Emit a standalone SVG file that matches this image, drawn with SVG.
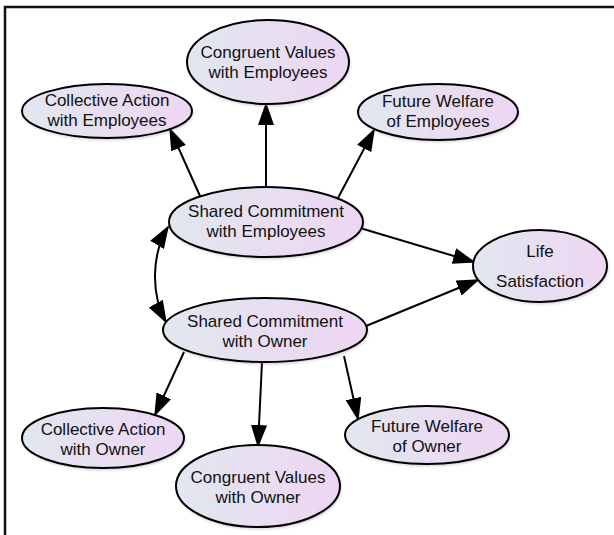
<svg xmlns="http://www.w3.org/2000/svg" width="614" height="535" viewBox="0 0 614 535">
  <style>
    .node { fill: url(#grad); stroke: #000; stroke-width: 2; }
    .shadow { fill: #888; opacity: 0.45; filter: url(#blur); }
    .lbl { font-family: "Liberation Sans", Arial, sans-serif; font-size: 17px; fill: #111; text-anchor: middle; }
    .edge { fill: none; stroke: #000; stroke-width: 2; }
    .frame { stroke: #111; stroke-width: 2.5; fill: none; }
  </style>
  <defs>
    <linearGradient id="grad" x1="0" y1="0" x2="1" y2="0">
      <stop offset="0" stop-color="#e1e7ef"/>
      <stop offset="1" stop-color="#eed6f3"/>
    </linearGradient>
    <filter id="blur" x="-10%" y="-10%" width="120%" height="130%">
      <feGaussianBlur stdDeviation="1.5"/>
    </filter>
    <marker id="arr" markerUnits="userSpaceOnUse" markerWidth="24" markerHeight="18" refX="21" refY="8" orient="auto-start-reverse">
      <path d="M0,0 L23,8 L0,16 z" fill="#000"/>
    </marker>
  </defs>

  <rect x="0" y="0" width="614" height="535" fill="#fff"/>
  <path class="frame" d="M5,535 L5,7 L614,7"/>

  <g id="connectors">
    <line class="edge" x1="200" y1="196" x2="170" y2="129" marker-end="url(#arr)"/>
    <line class="edge" x1="266" y1="190" x2="266" y2="104" marker-end="url(#arr)"/>
    <line class="edge" x1="338" y1="198" x2="374" y2="130" marker-end="url(#arr)"/>
    <line class="edge" x1="360" y1="228" x2="474" y2="262" marker-end="url(#arr)"/>
    <line class="edge" x1="366" y1="326" x2="478" y2="280" marker-end="url(#arr)"/>
    <line class="edge" x1="184" y1="352" x2="155" y2="415" marker-end="url(#arr)"/>
    <line class="edge" x1="262" y1="362" x2="258" y2="446" marker-end="url(#arr)"/>
    <line class="edge" x1="344" y1="356" x2="358" y2="419" marker-end="url(#arr)"/>
    <path class="edge" d="M168,227 C151,255 151,295 166,322" marker-start="url(#arr)" marker-end="url(#arr)"/>
  </g>

  <g id="cve">
    <ellipse class="shadow" cx="269" cy="64" rx="81" ry="42"/>
    <ellipse class="node" cx="268" cy="62" rx="81" ry="42"/>
    <text class="lbl" x="268" y="58">Congruent Values</text>
    <text class="lbl" x="268" y="78">with Employees</text>
  </g>
  <g id="cae">
    <ellipse class="shadow" cx="108" cy="113" rx="85" ry="27"/>
    <ellipse class="node" cx="107" cy="111" rx="85" ry="27"/>
    <text class="lbl" x="107" y="106">Collective Action</text>
    <text class="lbl" x="107" y="126">with Employees</text>
  </g>
  <g id="fwe">
    <ellipse class="shadow" cx="439" cy="114" rx="80" ry="28"/>
    <ellipse class="node" cx="438" cy="112" rx="80" ry="28"/>
    <text class="lbl" x="438" y="107">Future Welfare</text>
    <text class="lbl" x="438" y="127">of Employees</text>
  </g>
  <g id="sce">
    <ellipse class="shadow" cx="267" cy="224" rx="97" ry="35"/>
    <ellipse class="node" cx="266" cy="222" rx="97" ry="35"/>
    <text class="lbl" x="266" y="217">Shared Commitment</text>
    <text class="lbl" x="266" y="237">with Employees</text>
  </g>
  <g id="ls">
    <ellipse class="shadow" cx="541" cy="268" rx="67" ry="36"/>
    <ellipse class="node" cx="540" cy="266" rx="67" ry="36"/>
    <text class="lbl" x="540" y="257">Life</text>
    <text class="lbl" x="540" y="287">Satisfaction</text>
  </g>
  <g id="sco">
    <ellipse class="shadow" cx="266" cy="332" rx="102" ry="32"/>
    <ellipse class="node" cx="265" cy="330" rx="102" ry="32"/>
    <text class="lbl" x="265" y="327">Shared Commitment</text>
    <text class="lbl" x="265" y="347">with Owner</text>
  </g>
  <g id="cao">
    <ellipse class="shadow" cx="104" cy="440" rx="81" ry="30"/>
    <ellipse class="node" cx="103" cy="438" rx="81" ry="30"/>
    <text class="lbl" x="103" y="435">Collective Action</text>
    <text class="lbl" x="103" y="455">with Owner</text>
  </g>
  <g id="fwo">
    <ellipse class="shadow" cx="428" cy="437" rx="82" ry="29"/>
    <ellipse class="node" cx="427" cy="435" rx="82" ry="29"/>
    <text class="lbl" x="427" y="432">Future Welfare</text>
    <text class="lbl" x="427" y="452">of Owner</text>
  </g>
  <g id="cvo">
    <ellipse class="shadow" cx="259" cy="488" rx="82" ry="41"/>
    <ellipse class="node" cx="258" cy="486" rx="82" ry="41"/>
    <text class="lbl" x="258" y="483">Congruent Values</text>
    <text class="lbl" x="258" y="503">with Owner</text>
  </g>
</svg>
